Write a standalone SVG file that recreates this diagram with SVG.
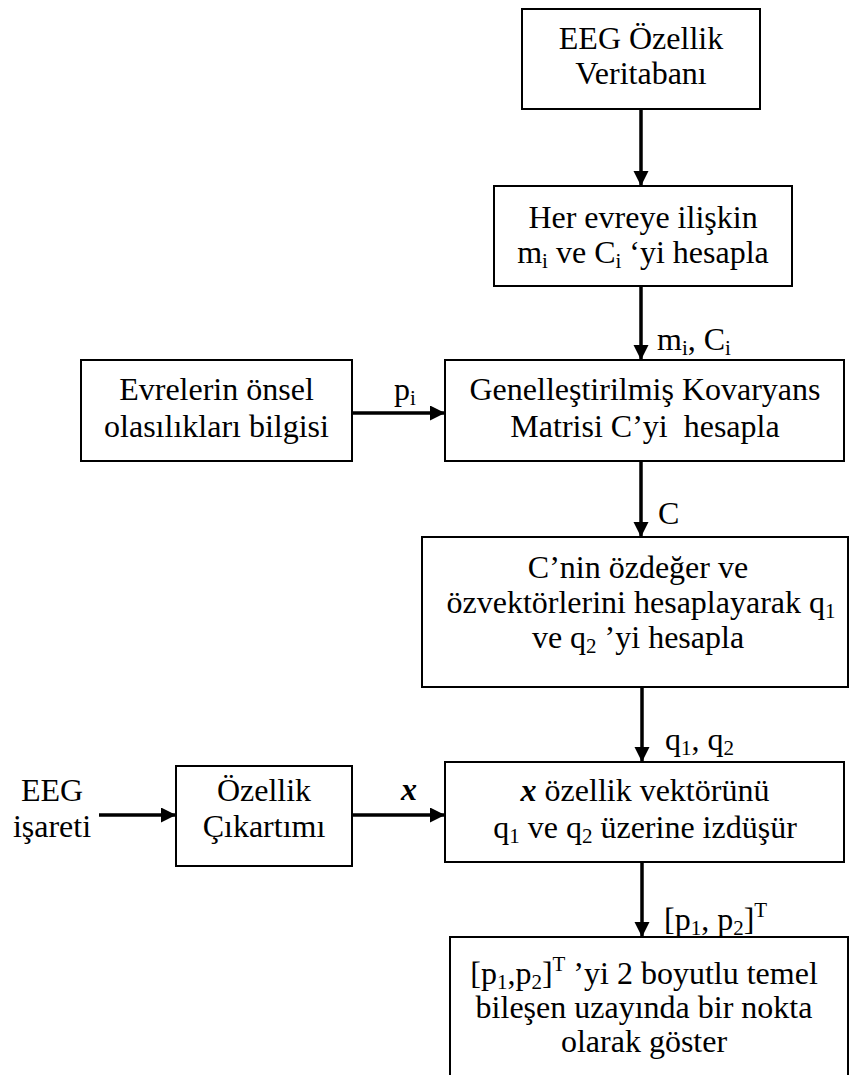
<svg xmlns="http://www.w3.org/2000/svg" width="850" height="1075" viewBox="0 0 850 1075">
<defs>
<style>
.box{fill:#fff;stroke:#000;stroke-width:2}
.t{font-family:'Liberation Serif','Times New Roman',Tinos,'DejaVu Serif',serif;font-size:32px;fill:#000}
.c{text-anchor:middle}
.s{font-size:21px}
.arr{stroke:#000;stroke-width:3.5;fill:none;marker-end:url(#ah)}
.bi{font-weight:bold;font-style:italic}
</style>
<marker id="ah" markerUnits="userSpaceOnUse" markerWidth="16" markerHeight="16" refX="15" refY="7.5" orient="auto" viewBox="0 0 16 16">
<path d="M0,0 L15,7.5 L0,15 z" fill="#000"/>
</marker>
</defs>
<rect width="850" height="1075" fill="#fff"/>
<g id="connectors" font-family="Liberation Serif, serif">
<line class="arr" x1="641" y1="109" x2="641" y2="186"/>
<line class="arr" x1="641" y1="286" x2="641" y2="360"/>
<line class="arr" x1="352" y1="413" x2="445" y2="413"/>
<line class="arr" x1="641" y1="461" x2="641" y2="537"/>
<line class="arr" x1="642" y1="687" x2="642" y2="762"/>
<line class="arr" x1="99" y1="815" x2="176" y2="815"/>
<line class="arr" x1="352" y1="815" x2="445" y2="815"/>
<line class="arr" x1="642" y1="862" x2="642" y2="937"/>
<text class="t" x="657" y="350">m<tspan class="s" dy="5">i</tspan><tspan dy="-5">, C</tspan><tspan class="s" dy="5">i</tspan></text>
<text class="t" x="394" y="400">p<tspan class="s" dy="5">i</tspan></text>
<text class="t" x="658" y="524">C</text>
<text class="t" x="665" y="750">q<tspan class="s" dy="5">1</tspan><tspan dy="-5">, q</tspan><tspan class="s" dy="5">2</tspan></text>
<text class="t bi" x="401" y="800">x</text>
<text class="t" x="664" y="930">[p<tspan class="s" dy="5">1</tspan><tspan dy="-5">, p</tspan><tspan class="s" dy="5">2</tspan><tspan dy="-5">]</tspan><tspan class="s" dy="-13">T</tspan></text>
</g>
<g id="n1">
<rect class="box" x="522" y="9" width="238" height="100"/>
<text class="t c" x="641" y="49">EEG Özellik</text>
<text class="t c" x="641" y="84">Veritabanı</text>
</g>
<g id="n2">
<rect class="box" x="494" y="186" width="298" height="100"/>
<text class="t c" x="643" y="228">Her evreye ilişkin</text>
<text class="t c" x="643" y="263">m<tspan class="s" dy="5">i</tspan><tspan dy="-5"> ve C</tspan><tspan class="s" dy="5">i</tspan><tspan dy="-5"> ‘yi hesapla</tspan></text>
</g>
<g id="n3">
<rect class="box" x="81" y="360" width="271" height="101"/>
<text class="t c" x="216.5" y="400">Evrelerin önsel</text>
<text class="t c" x="216.5" y="437">olasılıkları bilgisi</text>
</g>
<g id="n4">
<rect class="box" x="445" y="360" width="399" height="101"/>
<text class="t c" x="645" y="400">Genelleştirilmiş Kovaryans</text>
<text class="t c" x="645" y="437" xml:space="preserve">Matrisi C’yi  hesapla</text>
</g>
<g id="n5">
<rect class="box" x="422" y="537" width="426" height="150"/>
<text class="t c" x="638" y="578">C’nin özdeğer ve</text>
<text class="t c" x="641" y="613">özvektörlerini hesaplayarak q<tspan class="s" dy="5">1</tspan></text>
<text class="t c" x="638" y="648">ve q<tspan class="s" dy="5">2</tspan><tspan dy="-5"> ’yi hesapla</tspan></text>
</g>
<g id="n6">
<text class="t c" x="52" y="801">EEG</text>
<text class="t c" x="52" y="837">işareti</text>
</g>
<g id="n7">
<rect class="box" x="176" y="766" width="176" height="100"/>
<text class="t c" x="264" y="801">Özellik</text>
<text class="t c" x="264" y="837">Çıkartımı</text>
</g>
<g id="n8">
<rect class="box" x="445" y="762" width="399" height="100"/>
<text class="t c" x="645" y="801"><tspan class="bi">x</tspan> özellik vektörünü</text>
<text class="t c" x="645" y="838">q<tspan class="s" dy="5">1</tspan><tspan dy="-5"> ve q</tspan><tspan class="s" dy="5">2</tspan><tspan dy="-5"> üzerine izdüşür</tspan></text>
</g>
<g id="n9">
<rect class="box" x="450" y="937" width="398" height="150"/>
<text class="t c" x="644" y="984">[p<tspan class="s" dy="5">1</tspan><tspan dy="-5">,p</tspan><tspan class="s" dy="5">2</tspan><tspan dy="-5">]</tspan><tspan class="s" dy="-13">T</tspan><tspan dy="13"> ’yi 2 boyutlu temel</tspan></text>
<text class="t c" x="644" y="1018">bileşen uzayında bir nokta</text>
<text class="t c" x="644" y="1052">olarak göster</text>
</g>
</svg>
